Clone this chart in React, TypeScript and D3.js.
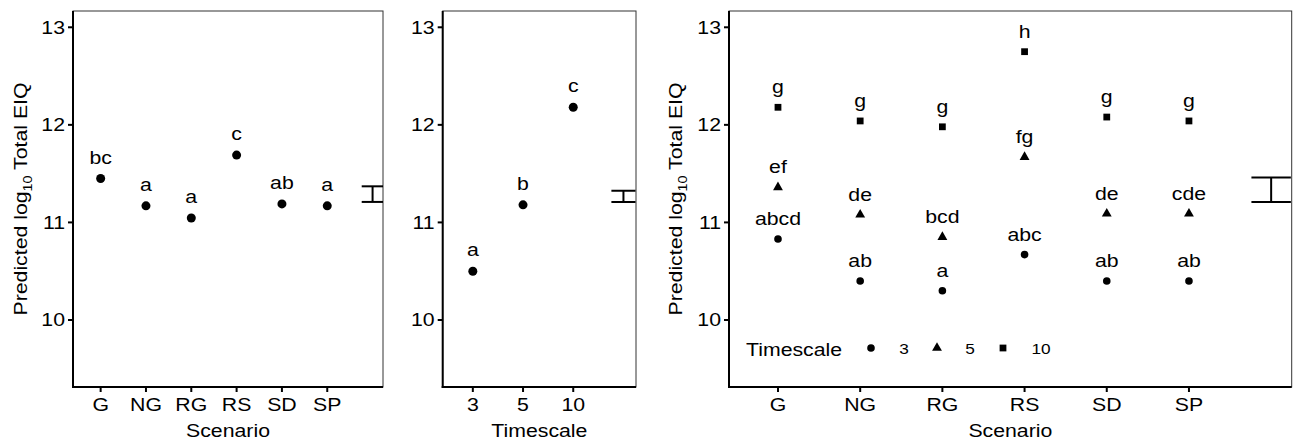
import * as d3 from "d3";

const scenarios = ["G", "NG", "RG", "RS", "SD", "SP"];
const scenarioMeans = [11.45, 11.17, 11.045, 11.69, 11.19, 11.17];
const scenarioLetters = ["bc", "a", "a", "c", "ab", "a"];

const timescales = ["3", "5", "10"];
const timescaleMeans = [10.5, 11.18, 12.18];
const timescaleLetters = ["a", "b", "c"];

const t3Means = [10.83, 10.4, 10.3, 10.67, 10.4, 10.4];
const t3Letters = ["abcd", "ab", "a", "abc", "ab", "ab"];
const t5Means = [11.36, 11.08, 10.85, 11.67, 11.09, 11.09];
const t5Letters = ["ef", "de", "bcd", "fg", "de", "cde"];
const t10Means = [12.18, 12.04, 11.98, 12.75, 12.08, 12.04];
const t10Letters = ["g", "g", "g", "h", "g", "g"];

// least significant difference bars [low, high]
const lsdScenario = [11.21, 11.37];
const lsdTimescale = [11.21, 11.325];
const lsdInteraction = [11.21, 11.46];

const yTicks = [10, 11, 12, 13];

const W = 1302;
const H = 439;
const top = 11;
const bottom = 387;
const font = "'Liberation Sans', Arial, sans-serif";
const fs = 18.5;
const sx = 1.15; // text in the source is a bit wider than Arial

const y = d3.scaleLinear().domain([9.313, 13.167]).range([bottom, top]);

const symTri = d3.symbol().type(d3.symbolTriangle).size(42)();
const symSq = d3.symbol().type(d3.symbolSquare).size(46)();

const T = ({ x, y, anchor = "start", size = fs, rot = false, children }: any) => (
  <text
    transform={`translate(${x},${y})${rot ? " rotate(-90)" : ""} scale(${sx},1)`}
    textAnchor={anchor}
    fontSize={size}
    fill="#000"
  >
    {children}
  </text>
);

type Series = { values: number[]; letters: string[]; shape: string; gap: number };

function Panel({ id, left, right, domain, cats, series, lsd, xTitle, yTitle, r }: any) {
  const x = d3.scaleLinear().domain(domain).range([left, right]);
  const pos = cats.map((_: string, i: number) => x(i + 1));
  const ebX = x(cats.length + 1);
  const half = 0.24;
  return (
    <g>
      <defs>
        <clipPath id={id}>
          <rect x={left} y={top} width={right - left} height={bottom - top} />
        </clipPath>
      </defs>
      <rect x={left} y={top} width={right - left} height={bottom - top} fill="none" stroke="#333" strokeWidth={1} />
      <line x1={left} x2={left} y1={top} y2={bottom + 1} stroke="#000" strokeWidth={2} />
      <line x1={left - 1} x2={right} y1={bottom} y2={bottom} stroke="#000" strokeWidth={2} />
      {yTicks.map((t) => (
        <g key={t}>
          <line x1={left - 5} x2={left} y1={y(t)} y2={y(t)} stroke="#000" strokeWidth={2} />
          <T x={left - 8} y={y(t) + 6.5} anchor="end">{t}</T>
        </g>
      ))}
      {cats.map((c: string, i: number) => (
        <g key={c}>
          <line x1={pos[i]} x2={pos[i]} y1={bottom} y2={bottom + 5} stroke="#000" strokeWidth={2} />
          <T x={pos[i]} y={411} anchor="middle">{c}</T>
        </g>
      ))}
      <T x={(left + right) / 2} y={436.5} anchor="middle">{xTitle}</T>
      {yTitle && (
        <T x={yTitle} y={(top + bottom) / 2} anchor="middle" rot>
          Predicted log
          <tspan fontSize={12.5} dy={5}>10</tspan>
          <tspan dy={-5}> Total EIQ</tspan>
        </T>
      )}
      <g clipPath={`url(#${id})`}>
        <line x1={ebX} x2={ebX} y1={y(lsd[0])} y2={y(lsd[1])} stroke="#000" strokeWidth={2} />
        <line x1={x(cats.length + 1 - half)} x2={x(cats.length + 1 + half)} y1={y(lsd[0])} y2={y(lsd[0])} stroke="#000" strokeWidth={2} />
        <line x1={x(cats.length + 1 - half)} x2={x(cats.length + 1 + half)} y1={y(lsd[1])} y2={y(lsd[1])} stroke="#000" strokeWidth={2} />
      </g>
      {series.map((s: Series, si: number) =>
        s.values.map((v, i) => (
          <g key={`${si}-${i}`}>
            {s.shape === "circle" && <circle cx={pos[i]} cy={y(v)} r={r} fill="#000" />}
            {s.shape === "triangle" && <path d={symTri} transform={`translate(${pos[i]},${y(v)})`} fill="#000" />}
            {s.shape === "square" && <path d={symSq} transform={`translate(${pos[i]},${y(v)})`} fill="#000" />}
            <T x={pos[i]} y={y(v) - s.gap} anchor="middle">{s.letters[i]}</T>
          </g>
        ))
      )}
    </g>
  );
}

export default function App() {
  const legendY = 348;
  return (
    <svg
      width={W}
      height={H}
      style={{ position: "absolute", left: 0, top: 0, background: "#fff" }}
      fontFamily={font}
    >
      <rect width={W} height={H} fill="#fff" />
      <Panel
        id="c1"
        left={73}
        right={383}
        domain={[0.39, 7.23]}
        cats={scenarios}
        series={[{ values: scenarioMeans, letters: scenarioLetters, shape: "circle", gap: 15 }]}
        lsd={lsdScenario}
        xTitle="Scenario"
        yTitle={27}
        r={4.5}
      />
      <Panel
        id="c2"
        left={442.7}
        right={636}
        domain={[0.4, 4.25]}
        cats={timescales}
        series={[{ values: timescaleMeans, letters: timescaleLetters, shape: "circle", gap: 15 }]}
        lsd={lsdTimescale}
        xTitle="Timescale"
        yTitle={null}
        r={4.5}
      />
      <Panel
        id="c3"
        left={729}
        right={1291.7}
        domain={[0.404, 7.25]}
        cats={scenarios}
        series={[
          { values: t3Means, letters: t3Letters, shape: "circle", gap: 14 },
          { values: t5Means, letters: t5Letters, shape: "triangle", gap: 14 },
          { values: t10Means, letters: t10Letters, shape: "square", gap: 14 },
        ]}
        lsd={lsdInteraction}
        xTitle="Scenario"
        yTitle={682}
        r={3.8}
      />
      <g>
        <T x={746} y={356}>Timescale</T>
        <circle cx={871} cy={legendY} r={3.8} fill="#000" />
        <T x={904} y={legendY + 5.5} anchor="middle" size={15}>3</T>
        <path d={symTri} transform={`translate(937,${legendY})`} fill="#000" />
        <T x={970} y={legendY + 5.5} anchor="middle" size={15}>5</T>
        <path d={symSq} transform={`translate(1003,${legendY})`} fill="#000" />
        <T x={1041} y={legendY + 5.5} anchor="middle" size={15}>10</T>
      </g>
    </svg>
  );
}
